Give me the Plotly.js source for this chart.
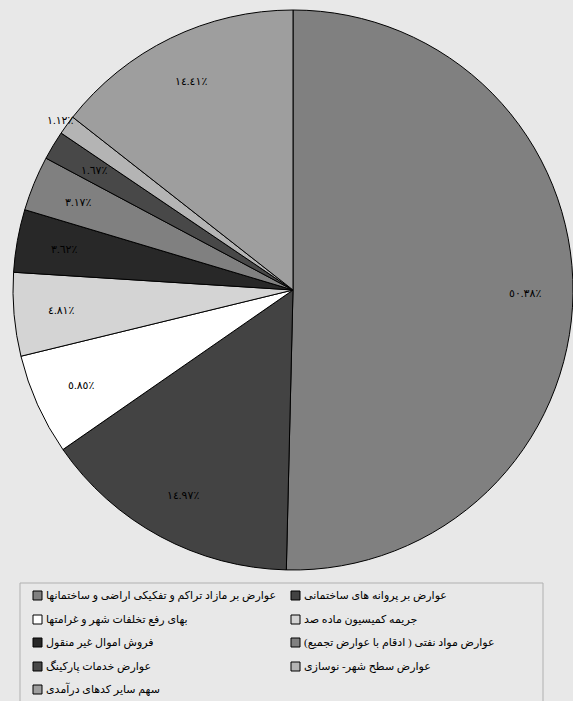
<!DOCTYPE html>
<html>
<head>
<meta charset="utf-8">
<script src="https://cdn.plot.ly/plotly-3.0.1.min.js"></script>
<style>html,body{margin:0;padding:0;background:#e8e8e8;}#chart{width:573px;height:701px;}</style>
</head>
<body>
<div id="chart"></div>
<script>
const categories = [
  "عوارض بر مازاد تراکم و تفکیکی اراضی و ساختمانها",
  "عوارض بر پروانه های ساختمانی",
  "بهای رفع تخلفات شهر و غرامتها",
  "جریمه کمیسیون ماده صد",
  "فروش اموال غیر منقول",
  "عوارض مواد نفتی ( ادقام با عوارض تجمیع)",
  "عوارض خدمات پارکینگ",
  "عوارض سطح شهر- نوسازی",
  "سهم سایر کدهای درآمدی"
];
const values = [50.38, 14.97, 5.85, 4.81, 3.62, 3.17, 1.67, 1.12, 14.41];
const colors = ["#808080", "#434343", "#ffffff", "#d4d4d4", "#282828", "#808080", "#484848", "#b4b4b4", "#9e9e9e"];

const W = 573, H = 701;
const FONT = "Liberation Serif, DejaVu Sans, serif";
const arabicDigits = "٠١٢٣٤٥٦٧٨٩";
function toArabic(v) {
  return v.toFixed(2).replace(/[0-9]/g, d => arabicDigits[+d]) + "٪";
}

// pie geometry in pixels (domain)
const pxLeft = 13, pxRight = 573, pxTop = 10, pxBottom = 570;
const cx = (pxLeft + pxRight) / 2, cy = (pxTop + pxBottom) / 2, R = (pxRight - pxLeft) / 2;

const trace = {
  type: "pie",
  labels: categories,
  values: values,
  textinfo: "none",
  sort: false,
  direction: "clockwise",
  rotation: 0,
  marker: { colors: colors, line: { color: "#000000", width: 1 } },
  domain: { x: [pxLeft / W, pxRight / W], y: [1 - pxBottom / H, 1 - pxTop / H] },
  showlegend: false,
  hoverinfo: "label+percent"
};

const annotations = [];
// slice labels at the middle angle of each slice; very thin slices get their label just outside
const total = values.reduce((a, b) => a + b, 0);
let cum = 0;
values.forEach((v) => {
  const mid = (cum + v / 2) / total * 2 * Math.PI;
  cum += v;
  const frac = (v / total) < 0.015 ? 1.03 : 0.83;
  const lx = cx + frac * R * Math.sin(mid);
  const ly = cy - frac * R * Math.cos(mid);
  annotations.push({
    xref: "paper", yref: "paper", x: lx / W, y: 1 - ly / H,
    xanchor: "center", yanchor: "middle", showarrow: false,
    text: toArabic(v),
    font: { family: FONT, size: 11, color: "#000000" }
  });
});

// custom legend (symbol left of text, two columns)
const shapes = [{
  type: "rect", xref: "paper", yref: "paper",
  x0: 20 / W, x1: 543 / W, y0: 1 - 705 / H, y1: 1 - 583 / H,
  line: { color: "#b0b0b0", width: 1 }, fillcolor: "rgba(0,0,0,0)"
}];
const colX = [33, 291];
const rowY = [595, 619, 642, 666, 689];
categories.forEach((c, i) => {
  const col = i % 2, row = Math.floor(i / 2);
  const bx = colX[col], by = rowY[row];
  shapes.push({
    type: "rect", xref: "paper", yref: "paper",
    x0: bx / W, x1: (bx + 9) / W, y0: 1 - (by + 5) / H, y1: 1 - (by - 4) / H,
    line: { color: "#000000", width: 1 }, fillcolor: colors[i]
  });
  annotations.push({
    xref: "paper", yref: "paper", x: (bx + 11) / W, y: 1 - by / H,
    xanchor: "left", yanchor: "middle", showarrow: false, text: c,
    font: { family: FONT, size: 11, color: "#000000" }
  });
});

const layout = {
  width: W, height: H,
  margin: { l: 0, r: 0, t: 0, b: 0 },
  paper_bgcolor: "#e8e8e8",
  plot_bgcolor: "#e8e8e8",
  showlegend: false,
  shapes: shapes,
  annotations: annotations
};

Plotly.newPlot("chart", [trace], layout, { displayModeBar: false, staticPlot: true });
</script>
</body>
</html>
